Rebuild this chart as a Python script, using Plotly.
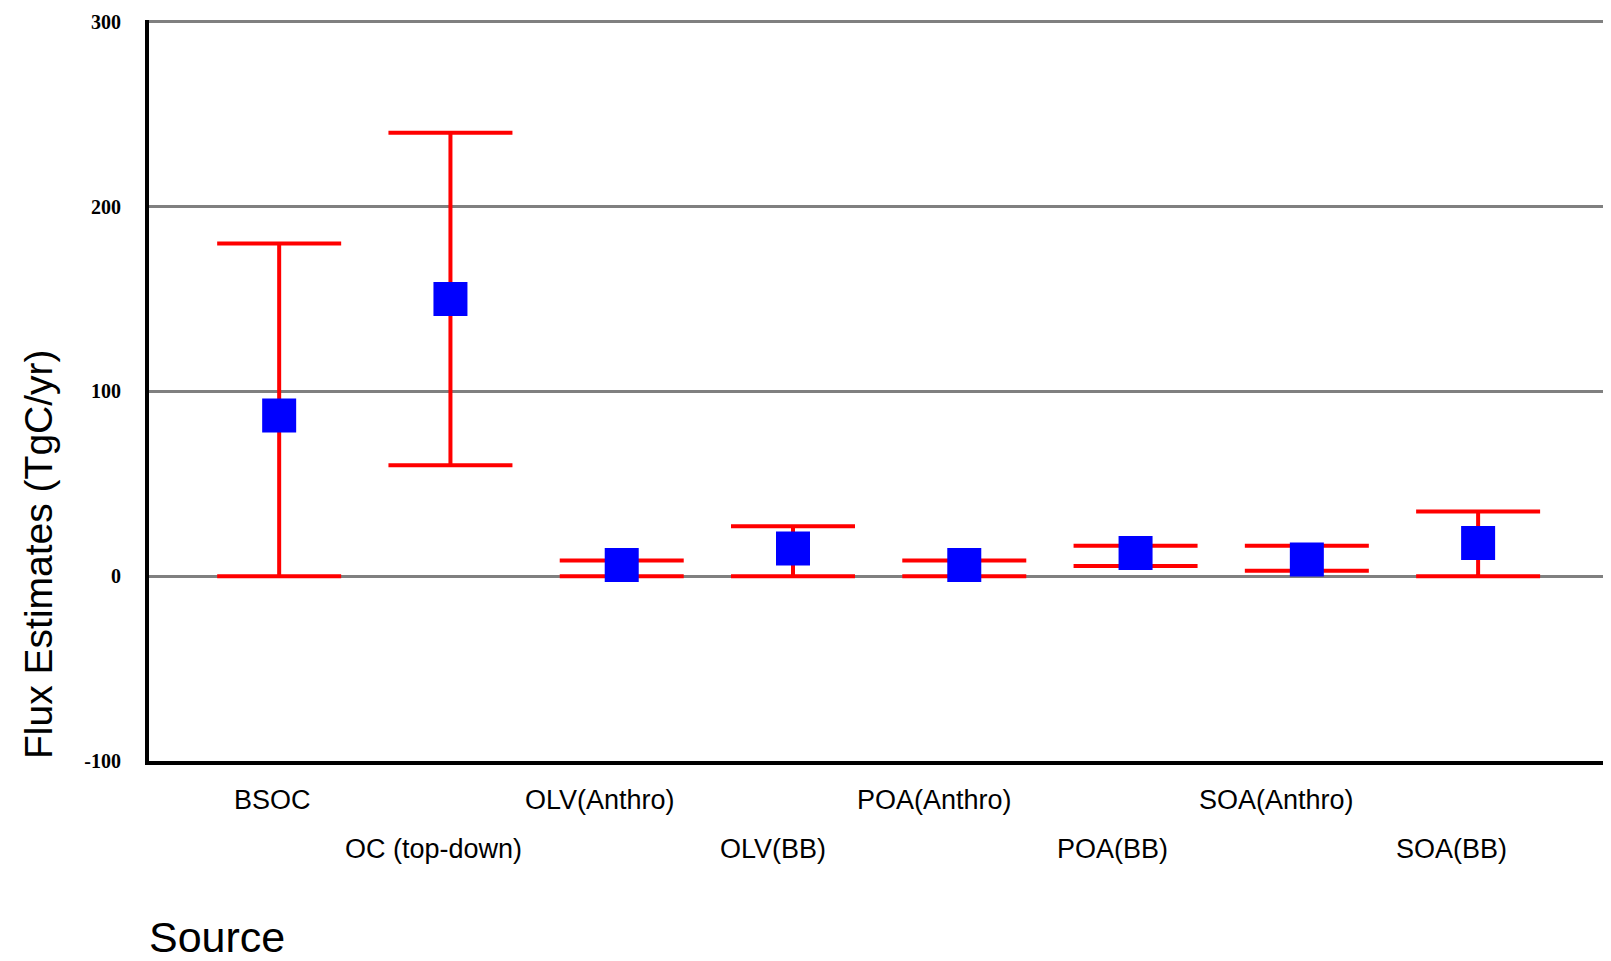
import plotly.graph_objects as go

categories = ["BSOC", "OC (top-down)", "OLV(Anthro)", "OLV(BB)",
              "POA(Anthro)", "POA(BB)", "SOA(Anthro)", "SOA(BB)"]
values = [87, 150, 6, 15, 6, 12.5, 9, 18]
upper = [180, 240, 8.5, 27, 8.5, 16.5, 16.5, 35]
lower = [0, 60, 0, 0, 0, 5.5, 3, 0]
y_ticks = [-100, 0, 100, 200, 300]

# layout-only: horizontal nudges of the staggered category labels (px)
label_shift = [-7, -17, -22, -20, -30, -23, -30, -27]

x_idx = list(range(len(categories)))
err_plus = [u - v for u, v in zip(upper, values)]
err_minus = [v - l for v, l in zip(values, lower)]

fig = go.Figure()
fig.add_trace(go.Scatter(
    x=x_idx, y=values, mode="markers",
    marker=dict(symbol="square", size=34, color="#0000FF"),
    error_y=dict(type="data", symmetric=False, array=err_plus, arrayminus=err_minus,
                 color="#FF0000", thickness=4, width=62),
    showlegend=False,
))

annotations = []
for i, name in enumerate(categories):
    annotations.append(dict(
        x=i, y=-0.0526 if i % 2 == 0 else -0.1188, xref="x", yref="paper",
        text=name, showarrow=False, xanchor="center", yanchor="middle",
        xshift=label_shift[i],
        font=dict(family="Liberation Sans, Arial", size=27, color="#000000"),
    ))
annotations.append(dict(
    x=0, y=0.2794, xref="paper", yref="paper", text="Flux Estimates (TgC/yr)",
    textangle=-90, showarrow=False, xanchor="center", yanchor="middle", xshift=-110,
    font=dict(family="Liberation Sans, Arial", size=39, color="#000000"),
))
annotations.append(dict(
    x=0, y=-0.2375, xref="paper", yref="paper", text="Source",
    showarrow=False, xanchor="left", yanchor="middle", xshift=-2,
    font=dict(family="Liberation Sans, Arial", size=43, color="#000000"),
))

# the page body has an 8px default margin: margins compensate for it
fig.update_layout(
    width=1611, height=961,
    margin=dict(l=141, r=9, t=12, b=208, autoexpand=False),
    paper_bgcolor="white", plot_bgcolor="white",
    annotations=annotations,
    shapes=[dict(type="line", xref="paper", yref="paper", x0=1, x1=1, y0=0, y1=1,
                 line=dict(color="black", width=2))],
)
fig.update_xaxes(range=[-0.76, 7.77], showticklabels=False, showgrid=False, automargin=False,
                 zeroline=False, showline=True, linecolor="black", linewidth=4, ticks="")
fig.update_yaxes(range=[-100, 301], tickvals=y_ticks, ticktext=[str(t) for t in y_ticks],
                 showgrid=True, gridcolor="#808080", gridwidth=3, automargin=False,
                 zeroline=False, showline=True, linecolor="black", linewidth=4,
                 ticks="", ticklabelstandoff=20,
                 tickfont=dict(family="Liberation Serif, Times New Roman", size=20, color="black",
                               weight="bold"))

fig.write_html("out.html")
